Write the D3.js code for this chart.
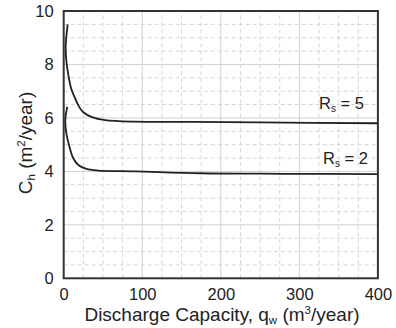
<!DOCTYPE html>
<html><head><meta charset="utf-8">
<script src="https://cdn.jsdelivr.net/npm/d3@7"></script>
<style>body{margin:0;background:#fff}svg{display:block}text{font-family:"Liberation Sans",Arial,sans-serif;fill:#222}</style>
</head><body>
<script>
const xTicks = [0, 100, 200, 300, 400];
const yTicks = [0, 2, 4, 6, 8, 10];
const rs5Q = [5.1, 3.2, 2.5, 3.5, 5.9, 9.5, 14.4, 19, 24.6, 36, 52.6, 90.8, 161, 250, 400];
const rs5C = [9.50, 9.0, 8.62, 8.1, 7.61, 7.1, 6.74, 6.45, 6.22, 6.03, 5.92, 5.86, 5.85, 5.83, 5.80];
const rs2Q = [4.6, 2.6, 2.0, 3.5, 6.7, 12.2, 18.6, 29, 44, 90.8, 174, 280, 400];
const rs2C = [6.42, 6.1, 5.86, 5.4, 4.99, 4.49, 4.24, 4.09, 4.03, 4.0, 3.93, 3.91, 3.90];
const seriesLabels = ["5", "2"];

const W = 396, H = 328;
const m = {l: 63.7, r: 396 - 377.9, t: 11, b: 328 - 278.3};
const svg = d3.select("body").append("svg").attr("width", W).attr("height", H);
const x = d3.scaleLinear().domain([0, 400]).range([m.l, W - m.r]);
const y = d3.scaleLinear().domain([0, 10]).range([H - m.b, m.t]);

// grid
const g = svg.append("g");
d3.range(25, 400, 25).filter(v => v % 100 !== 0).forEach(v => {
  g.append("line").attr("x1", x(v)).attr("x2", x(v)).attr("y1", y(0)).attr("y2", y(10))
   .attr("stroke", "#d6d6d6").attr("stroke-width", 1).attr("stroke-dasharray", "4,3");
});
d3.range(0.5, 10, 0.5).filter(v => v % 2 !== 0).forEach(v => {
  g.append("line").attr("x1", x(0)).attr("x2", x(400)).attr("y1", y(v)).attr("y2", y(v))
   .attr("stroke", "#d6d6d6").attr("stroke-width", 1).attr("stroke-dasharray", "4,3");
});
xTicks.slice(1, -1).forEach(v => {
  g.append("line").attr("x1", x(v)).attr("x2", x(v)).attr("y1", y(0)).attr("y2", y(10))
   .attr("stroke", "#d0d0d0").attr("stroke-width", 1);
});
yTicks.slice(1, -1).forEach(v => {
  g.append("line").attr("x1", x(0)).attr("x2", x(400)).attr("y1", y(v)).attr("y2", y(v))
   .attr("stroke", "#d0d0d0").attr("stroke-width", 1);
});

// curves
const line = d3.line().x(d => x(d[0])).y(d => y(d[1])).curve(d3.curveCatmullRom.alpha(0.5));
[[rs5Q, rs5C], [rs2Q, rs2C]].forEach(([q, c]) => {
  svg.append("path").datum(q.map((v, i) => [v, c[i]])).attr("d", line)
    .attr("fill", "none").attr("stroke", "#222").attr("stroke-width", 1.8);
});

// frame
svg.append("rect").attr("x", x(0)).attr("y", y(10)).attr("width", x(400) - x(0)).attr("height", y(0) - y(10))
  .attr("fill", "none").attr("stroke", "#333").attr("stroke-width", 2);

// axes (labels only)
const xa = svg.append("g").attr("transform", `translate(0,${y(0)})`)
  .call(d3.axisBottom(x).tickValues(xTicks).tickSize(0).tickPadding(10));
const ya = svg.append("g").attr("transform", `translate(${x(0)},0)`)
  .call(d3.axisLeft(y).tickValues(yTicks).tickSize(0).tickPadding(10));
[xa, ya].forEach(a => {
  a.select(".domain").remove();
  a.selectAll("text").attr("font-size", 16.5).attr("font-family", "Liberation Sans, Arial, sans-serif").attr("fill", "#222");
});

// series labels
const lab = [[seriesLabels[0], 364, 109], [seriesLabels[1], 368, 164]];
lab.forEach(([s, xr, yb]) => {
  const t = svg.append("text").attr("x", xr).attr("y", yb).attr("text-anchor", "end").attr("font-size", 16.5);
  t.append("tspan").text("R");
  t.append("tspan").attr("font-size", 10).attr("dy", 3).text("s");
  t.append("tspan").attr("dy", -3).text(" = " + s);
});

// x title
const xt = svg.append("text").attr("x", 222).attr("y", 321).attr("text-anchor", "middle").attr("font-size", 19);
xt.append("tspan").text("Discharge Capacity, q");
xt.append("tspan").attr("font-size", 11.5).attr("dy", 3).text("w");
xt.append("tspan").attr("dy", -3).text(" (m");
xt.append("tspan").attr("font-size", 11.5).attr("dy", -7).text("3");
xt.append("tspan").attr("dy", 7).text("/year)");

// y title
const yt = svg.append("text").attr("transform", "translate(32,143) rotate(-90)").attr("text-anchor", "middle").attr("font-size", 19);
yt.append("tspan").text("C");
yt.append("tspan").attr("font-size", 11.5).attr("dy", 3).text("h");
yt.append("tspan").attr("dy", -3).text(" (m");
yt.append("tspan").attr("font-size", 11.5).attr("dy", -7).text("2");
yt.append("tspan").attr("dy", 7).text("/year)");
</script>
</body></html>
